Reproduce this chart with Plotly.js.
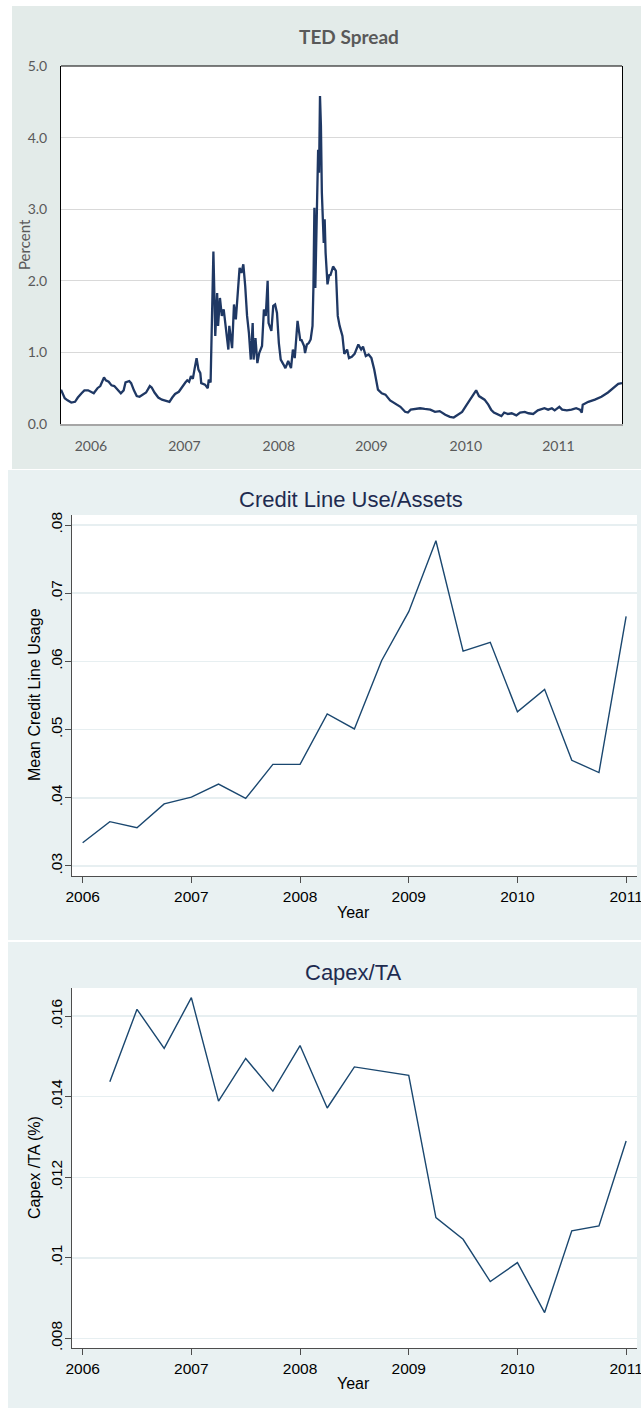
<!DOCTYPE html>
<html>
<head>
<meta charset="utf-8">
<script src="https://cdn.plot.ly/plotly-3.0.1.min.js"></script>
<style>html,body{margin:0;padding:0;background:#fff;}#chart{width:641px;height:1408px;}</style>
</head>
<body>
<div id="chart"></div>
<script>
// ---- TED Spread (percent), decimal years ----
const tedYears = [2006.00,2006.01,2006.04,2006.07,2006.11,2006.15,2006.18,2006.22,2006.25,2006.29,2006.32,2006.35,2006.39,2006.42,2006.46,2006.48,2006.51,2006.54,2006.57,2006.60,2006.64,2006.67,2006.69,2006.73,2006.75,2006.78,2006.81,2006.84,2006.88,2006.91,2006.95,2006.97,2007.00,2007.04,2007.08,2007.13,2007.16,2007.19,2007.22,2007.26,2007.29,2007.33,2007.35,2007.37,2007.39,2007.41,
2007.43,2007.45,2007.47,2007.49,2007.50,2007.54,2007.57,2007.58,2007.60,2007.61,2007.63,2007.64,2007.65,2007.67,2007.68,2007.70,2007.72,2007.74,2007.76,2007.79,2007.80,2007.83,2007.85,2007.87,2007.90,2007.91,2007.93,2007.95,2007.97,2007.99,2008.01,2008.03,2008.05,2008.06,2008.08,2008.10,2008.12,2008.15,2008.17,2008.19,2008.21,2008.22,2008.25,2008.27,2008.29,2008.31,2008.33,2008.35,2008.38,2008.40,2008.43,2008.46,2008.48,2008.50,2008.51,2008.53,2008.56,2008.57,2008.60,2008.61,2008.63,2008.65,2008.67,2008.69,2008.70,2008.71,2008.72,2008.74,2008.75,2008.76,2008.77,2008.78,2008.79,2008.81,2008.82,2008.83,
2008.85,2008.87,2008.88,2008.91,2008.94,2008.96,2008.98,2009.01,2009.03,2009.06,2009.08,2009.11,2009.14,2009.18,2009.21,2009.23,2009.26,2009.29,2009.32,2009.35,2009.38,2009.39,2009.43,2009.47,2009.52,2009.57,2009.63,2009.68,2009.71,2009.74,2009.79,2009.84,2009.89,2009.95,2010.00,2010.05,2010.11,2010.16,2010.20,2010.24,
2010.27,2010.29,2010.34,2010.36,2010.39,2010.42,2010.44,2010.47,2010.50,2010.53,2010.57,2010.60,2010.63,2010.67,2010.71,2010.74,2010.78,2010.82,2010.87,2010.91,2010.96,2011.00,2011.05,2011.10,2011.13,2011.17,2011.21,2011.25,2011.28,2011.33,2011.36,2011.41,2011.46,2011.51,2011.55,2011.57,2011.58,2011.64,2011.71,2011.78,2011.85,2011.91,2011.96,2012.00];
const tedValues = [0.48,0.45,0.36,0.33,0.30,0.31,0.37,0.43,0.47,0.47,0.45,0.43,0.50,0.53,0.65,0.61,0.59,0.54,0.53,0.48,0.43,0.47,0.58,0.60,0.57,0.47,0.39,0.38,0.42,0.44,0.53,0.51,0.44,0.37,0.34,0.32,0.31,0.37,0.42,0.45,0.51,0.58,0.61,0.59,0.67,0.63,
0.78,0.92,0.76,0.71,0.57,0.55,0.50,0.62,0.58,1.13,2.41,1.83,1.23,1.83,1.37,1.76,1.51,1.60,1.37,1.04,1.37,1.06,1.67,1.46,2.00,2.18,2.11,2.23,1.93,1.51,1.27,0.90,1.41,0.90,1.20,0.85,0.99,1.09,1.60,1.51,2.00,1.41,1.30,1.65,1.67,1.55,1.13,0.90,0.83,0.78,0.88,0.78,1.04,0.92,1.09,1.44,1.16,1.18,1.09,0.99,1.11,1.13,1.18,1.37,1.93,3.02,1.90,2.99,3.83,3.51,4.58,4.16,3.23,2.53,2.86,2.39,
1.95,2.09,2.07,2.20,2.14,1.51,1.37,1.23,0.98,1.04,0.92,0.94,0.98,1.11,1.04,1.08,0.95,0.97,0.92,0.76,0.52,0.48,0.43,0.41,0.33,0.29,0.24,0.17,0.16,0.20,0.21,0.22,0.21,0.20,0.17,0.18,0.13,0.10,0.09,0.13,
0.15,0.17,0.27,0.31,0.38,0.43,0.47,0.39,0.36,0.34,0.27,0.20,0.16,0.14,0.11,0.16,0.14,0.15,0.12,0.16,0.17,0.15,0.14,0.19,0.20,0.22,0.20,0.22,0.19,0.24,0.20,0.19,0.20,0.22,0.20,0.16,0.27,0.31,0.34,0.38,0.44,0.50,0.56,0.57];
const tedTickYears = [2006.32,2007.32,2008.33,2009.32,2010.33,2011.32];
const tedTickText = ["2006","2007","2008","2009","2010","2011"];
const tedYTicks = [0,1,2,3,4,5];

// ---- Credit line use / assets (quarterly) ----
const creditYears = [2006,2006.25,2006.5,2006.75,2007,2007.25,2007.5,2007.75,2008,2008.25,2008.5,2008.75,2009,2009.25,2009.5,2009.75,2010,2010.25,2010.5,2010.75,2011];
const creditUse = [0.0334,0.0365,0.0356,0.0391,0.0401,0.0420,0.0399,0.0449,0.0449,0.0523,0.0501,0.0601,0.0673,0.0777,0.0615,0.0628,0.0526,0.0559,0.0455,0.0437,0.0666];
const creditYTicks = [0.03,0.04,0.05,0.06,0.07,0.08];
const creditYText = [".03",".04",".05",".06",".07",".08"];

// ---- Capex / TA (quarterly) ----
const capexYears = [2006.25,2006.5,2006.75,2007,2007.25,2007.5,2007.75,2008,2008.25,2008.5,2009,2009.25,2009.5,2009.75,2010,2010.25,2010.5,2010.75,2011];
const capexTA = [0.01437,0.01617,0.01520,0.01646,0.01389,0.01495,0.01414,0.01527,0.01372,0.01474,0.01453,0.01100,0.01046,0.00941,0.00988,0.00864,0.01067,0.01079,0.01290];
const capexYTicks = [0.008,0.010,0.012,0.014,0.016];
const capexYText = [".008",".01",".012",".014",".016"];

const stataYears = [2006,2007,2008,2009,2010,2011];

const W = 641, H = 1408;
const px = v => v / W;
const py = v => 1 - v / H;

const navy = '#1a476f';
const stataFont = 'Liberation Sans, Arial, sans-serif';
const xlFont = 'Lato, Open Sans, sans-serif';

const traces = [
  {x: tedYears, y: tedValues, xaxis: 'x', yaxis: 'y', type: 'scatter', mode: 'lines',
   line: {color: '#1f3864', width: 2.3}, hoverinfo: 'skip'},
  {x: creditYears, y: creditUse, xaxis: 'x2', yaxis: 'y2', type: 'scatter', mode: 'lines',
   line: {color: navy, width: 1.4}, hoverinfo: 'skip'},
  {x: capexYears, y: capexTA, xaxis: 'x3', yaxis: 'y3', type: 'scatter', mode: 'lines',
   line: {color: navy, width: 1.4}, hoverinfo: 'skip'}
];

const stataX = (anchor) => ({
  domain: [px(72), px(637)], anchor: anchor, range: [2005.902, 2011.1],
  tickvals: stataYears, ticktext: stataYears.map(String), ticklabeloverflow: 'allow',
  showgrid: false, zeroline: false, showline: true, linecolor: '#4d4d4d', linewidth: 1,
  ticks: 'outside', ticklen: 6, tickcolor: '#4d4d4d', tickwidth: 1,
  tickfont: {family: stataFont, size: 15.5, color: '#000'}
});
const stataY = (anchor, dom, rng, tv, tt) => ({
  domain: dom, anchor: anchor, range: rng, tickvals: tv, ticktext: tt, tickangle: -90,
  showgrid: true, gridcolor: '#e7eff1', gridwidth: 1.5, zeroline: false,
  showline: true, linecolor: '#4d4d4d', linewidth: 1,
  ticks: 'outside', ticklen: 6, tickcolor: '#4d4d4d', tickwidth: 1,
  tickfont: {family: stataFont, size: 15.5, color: '#000'}, ticklabelstandoff: -3
});

const whiteRect = (xr, yr) => ({type: 'rect', xref: xr + ' domain', yref: yr + ' domain', x0: 0, x1: 1, y0: 0, y1: 1,
  fillcolor: '#ffffff', line: {width: 0}, layer: 'below'});

const layout = {
  width: W, height: H, margin: {l: 0, r: 0, t: 0, b: 0},
  paper_bgcolor: '#ffffff', plot_bgcolor: '#ffffff', showlegend: false,
  xaxis: {domain: [px(61), px(622)], anchor: 'y', range: [2006, 2012],
    tickvals: tedTickYears, ticktext: tedTickText, showgrid: false, zeroline: false,
    showline: true, linecolor: '#a6a6a6', linewidth: 2, ticks: 'outside', ticklen: 8, tickcolor: 'rgba(0,0,0,0)',
    tickfont: {family: xlFont, size: 14, color: '#595959'}},
  yaxis: {domain: [py(424), py(66)], anchor: 'x', range: [0, 5], tickvals: tedYTicks, tickformat: '.1f',
    showgrid: true, gridcolor: '#d9d9d9', gridwidth: 1, zeroline: false,
    showline: true, mirror: true, linecolor: '#000', linewidth: 1, ticks: 'outside', ticklen: 10, tickcolor: 'rgba(0,0,0,0)',
    tickfont: {family: xlFont, size: 14, color: '#595959'}},
  xaxis2: stataX('y2'),
  yaxis2: stataY('x2', [py(876), py(515)], [0.02853, 0.08147], creditYTicks, creditYText),
  xaxis3: stataX('y3'),
  yaxis3: stataY('x3', [py(1348), py(988)], [0.00776, 0.0167], capexYTicks, capexYText),
  shapes: [
    {type: 'rect', xref: 'paper', yref: 'paper', x0: px(12), x1: 1, y0: py(469), y1: py(6), fillcolor: '#e3ebe9', line: {width: 0}, layer: 'below'},
    {type: 'rect', xref: 'paper', yref: 'paper', x0: px(8), x1: 1, y0: py(940), y1: py(470), fillcolor: '#e9f1f2', line: {width: 0}, layer: 'below'},
    {type: 'rect', xref: 'paper', yref: 'paper', x0: px(8), x1: 1, y0: 0, y1: py(942), fillcolor: '#e9f1f2', line: {width: 0}, layer: 'below'},
    whiteRect('x', 'y'), whiteRect('x2', 'y2'), whiteRect('x3', 'y3'),
    {type: 'line', xref: 'x domain', yref: 'y domain', x0: 0, x1: 1, y0: 1, y1: 1, line: {color: '#000', width: 1}}
  ],
  annotations: [
    {text: '<b>TED Spread</b>', x: px(349), y: py(37), xref: 'paper', yref: 'paper', showarrow: false,
     xanchor: 'center', yanchor: 'middle', font: {family: xlFont, size: 19, color: '#595959'}},
    {text: 'Percent', x: px(24), y: py(245), xref: 'paper', yref: 'paper', showarrow: false, textangle: -90,
     xanchor: 'center', yanchor: 'middle', font: {family: xlFont, size: 15, color: '#595959'}},
    {text: 'Credit Line Use/Assets', x: px(351), y: py(499), xref: 'paper', yref: 'paper', showarrow: false,
     xanchor: 'center', yanchor: 'middle', font: {family: stataFont, size: 22, color: '#1e2b50'}},
    {text: 'Mean Credit Line Usage', x: px(34), y: py(695), xref: 'paper', yref: 'paper', showarrow: false, textangle: -90,
     xanchor: 'center', yanchor: 'middle', font: {family: stataFont, size: 16, color: '#000'}},
    {text: 'Year', x: px(354), y: py(912), xref: 'paper', yref: 'paper', showarrow: false,
     xanchor: 'center', yanchor: 'middle', font: {family: stataFont, size: 16, color: '#000'}},
    {text: 'Capex/TA', x: px(353), y: py(972), xref: 'paper', yref: 'paper', showarrow: false,
     xanchor: 'center', yanchor: 'middle', font: {family: stataFont, size: 22, color: '#1e2b50'}},
    {text: 'Capex /TA (%)', x: px(34), y: py(1168), xref: 'paper', yref: 'paper', showarrow: false, textangle: -90,
     xanchor: 'center', yanchor: 'middle', font: {family: stataFont, size: 16, color: '#000'}},
    {text: 'Year', x: px(354), y: py(1383), xref: 'paper', yref: 'paper', showarrow: false,
     xanchor: 'center', yanchor: 'middle', font: {family: stataFont, size: 16, color: '#000'}}
  ]
};

Plotly.newPlot('chart', traces, layout, {staticPlot: true, displayModeBar: false});
</script>
</body>
</html>
